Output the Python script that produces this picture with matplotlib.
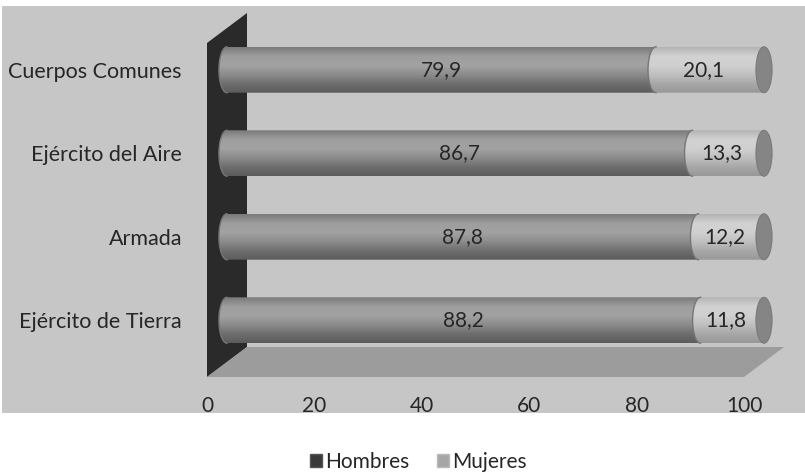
import numpy as np
import matplotlib.pyplot as plt
from matplotlib.colors import LinearSegmentedColormap
from matplotlib.patches import Polygon, Ellipse, Rectangle, PathPatch
from matplotlib.path import Path
from matplotlib.transforms import ScaledTranslation

plt.rcParams['font.family'] = ['Lato', 'DejaVu Sans']

categories = ['Ejército de Tierra', 'Armada', 'Ejército del Aire', 'Cuerpos Comunes']
hombres = [88.2, 87.8, 86.7, 79.9]
mujeres = [11.8, 12.2, 13.3, 20.1]
series_names = ['Hombres', 'Mujeres']
xticks = [0, 20, 40, 60, 80, 100]

text_col = '#262626'
panel_col = '#c6c6c6'
wall_col = '#2a2a2a'
floor_col = '#9c9c9c'

cmap_h = LinearSegmentedColormap.from_list('h', ['#7a7a7a', '#9e9e9e', '#a2a2a2', '#8c8c8c', '#6e6e6e', '#5c5c5c'])
cmap_m = LinearSegmentedColormap.from_list('m', ['#b4b4b4', '#d2d2d2', '#d0d0d0', '#c0c0c0', '#a8a8a8', '#989898'])

fig = plt.figure(figsize=(8.05, 4.74), dpi=100)
fig.patch.set_facecolor('white')
fig.patches.append(Rectangle((0.003, 61 / 474), 0.997, 407 / 474, transform=fig.transFigure,
                             facecolor=panel_col, edgecolor='none', zorder=-10))

ax = fig.add_axes([207 / 805, 97 / 474, 537 / 805, 334 / 474])
ax.set_facecolor('none')
ax.set_xlim(0, 100)
ax.set_ylim(-0.5, 3.5)

# depth of the 3d box in data units
dx = 40 * 100 / 537
dy = 30 * 4 / 334
bh = 0.55
capw = 3.0

wall = Polygon([(0, -0.5), (0, 3.5), (dx, 3.5 + dy), (dx, -0.5 + dy)], closed=True,
               facecolor=wall_col, edgecolor='none', zorder=1, clip_on=False)
floor = Polygon([(0, -0.5), (100, -0.5), (100 + dx, -0.5 + dy), (dx, -0.5 + dy)], closed=True,
                facecolor=floor_col, edgecolor='none', zorder=1, clip_on=False)
ax.add_patch(wall)
ax.add_patch(floor)

ypos = np.arange(len(categories))
bars_h = ax.barh(ypos, hombres, height=bh, color='none')
bars_m = ax.barh(ypos, mujeres, left=hombres, height=bh, color='none')


def seg_path(x0, x1, y0, y1):
    t = np.linspace(np.pi / 2, 3 * np.pi / 2, 40)
    cy = (y0 + y1) / 2
    arc = np.column_stack([x0 + capw / 2 * np.cos(t), cy + (y1 - y0) / 2 * np.sin(t)])
    verts = np.vstack([[x1, y1], arc, [x1, y0], [x1, y1]])
    return Path(verts, closed=True)


grad = np.linspace(0, 1, 100).reshape(-1, 1)
for bars, cmap, z in [(bars_h, cmap_h, 3), (bars_m, cmap_m, 4)]:
    for r in bars:
        x0 = r.get_x() + dx / 2
        x1 = x0 + r.get_width()
        y0 = r.get_y() + dy / 2
        y1 = y0 + r.get_height()
        patch = PathPatch(seg_path(x0, x1, y0, y1), facecolor='none', edgecolor='none',
                          clip_on=False)
        ax.add_patch(patch)
        im = ax.imshow(grad, cmap=cmap, extent=[x0 - capw, x1, y0, y1], origin='upper',
                       aspect='auto', zorder=z)
        im.set_clip_box(fig.bbox)
        im.set_clip_path(patch)
        # rim of the left end
        t = np.linspace(np.pi / 2, 3 * np.pi / 2, 40)
        ax.plot(x0 + capw / 2 * np.cos(t), (y0 + y1) / 2 + (y1 - y0) / 2 * np.sin(t),
                color='#767676', lw=1.0, zorder=z + 0.1, clip_on=False)
        if bars is bars_m:
            ax.add_patch(Ellipse((x1, (y0 + y1) / 2), capw, y1 - y0, facecolor='#858585',
                                 edgecolor='#7a7a7a', lw=0.8, zorder=z + 0.2, clip_on=False))

for r, v in zip(bars_h, hombres):
    ax.text(r.get_x() + r.get_width() / 2 + dx / 2, r.get_y() + r.get_height() / 2 + dy / 2,
            f'{v:.1f}'.replace('.', ','), ha='center', va='center', fontsize=15,
            color=text_col, zorder=10)
for r, v in zip(bars_m, mujeres):
    ax.text(r.get_x() + r.get_width() / 2 + dx / 2 - 1.2, r.get_y() + r.get_height() / 2 + dy / 2,
            f'{v:.1f}'.replace('.', ','), ha='center', va='center', fontsize=15,
            color=text_col, zorder=10)

ax.set_xlim(0, 100)
ax.set_ylim(-0.5, 3.5)
ax.set_xticks(xticks)
ax.set_xticklabels([str(t) for t in xticks], fontsize=15, color=text_col)
ax.set_yticks(ypos)
ax.set_yticklabels(categories, fontsize=15.5, color=text_col)
ax.tick_params(axis='x', length=0, pad=14)
ax.tick_params(axis='y', length=0, pad=18)
for lab in ax.get_yticklabels():
    lab.set_transform(lab.get_transform() + ScaledTranslation(0, 0.15, fig.dpi_scale_trans))
for s in ax.spines.values():
    s.set_visible(False)

handles = [Rectangle((0, 0), 1, 1, facecolor='#3a3a3a', edgecolor='#555555'),
           Rectangle((0, 0), 1, 1, facecolor='#a6a6a6', edgecolor='#bbbbbb')]
fig.legend(handles, series_names, loc='center', bbox_to_anchor=(0.52, 0.026), ncol=2,
           frameon=False, fontsize=15, handlelength=0.6, handleheight=0.6,
           handletextpad=0.15, columnspacing=1.3, labelcolor=text_col)

fig.savefig('out.png', dpi=100)
